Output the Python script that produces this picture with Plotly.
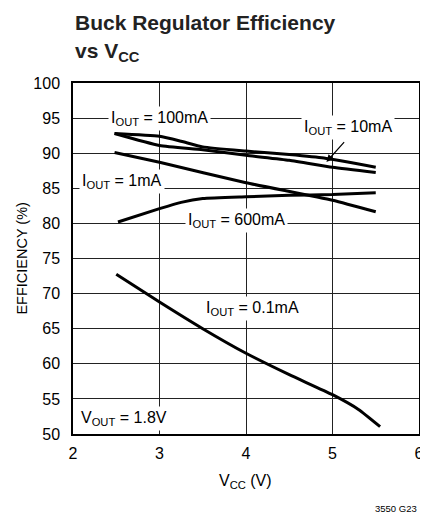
import plotly.graph_objects as go

# ---- data ----
vcc_100mA = [2.48, 3.0, 3.25, 3.5, 4.0, 4.5, 4.9, 5.5]
eff_100mA = [92.8, 92.4, 91.7, 90.9, 90.3, 89.8, 89.3, 88.0]

vcc_10mA = [2.48, 3.0, 3.5, 4.0, 4.5, 5.0, 5.5]
eff_10mA = [92.8, 91.1, 90.5, 89.7, 89.0, 88.0, 87.25]

vcc_1mA = [2.48, 3.0, 4.0, 5.0, 5.5]
eff_1mA = [90.1, 88.7, 85.8, 83.3, 81.65]

vcc_600mA = [2.52, 3.0, 3.25, 3.5, 4.0, 4.5, 5.0, 5.5]
eff_600mA = [80.2, 82.1, 83.0, 83.55, 83.8, 84.0, 84.1, 84.35]

vcc_01mA = [2.5, 3.0, 3.5, 4.0, 4.5, 5.0, 5.3, 5.55]
eff_01mA = [72.75, 68.8, 65.0, 61.5, 58.45, 55.6, 53.5, 51.05]

x_ticks = [2, 3, 4, 5, 6]
y_ticks = [50, 55, 60, 65, 70, 75, 80, 85, 90, 95, 100]

FONT = "Liberation Sans, Arial, Helvetica, sans-serif"

fig = go.Figure()
for xs, ys in [(vcc_100mA, eff_100mA), (vcc_10mA, eff_10mA), (vcc_1mA, eff_1mA),
               (vcc_600mA, eff_600mA), (vcc_01mA, eff_01mA)]:
    fig.add_trace(go.Scatter(x=xs, y=ys, mode="lines",
                             line=dict(color="black", width=3, shape="spline", smoothing=0.5),
                             showlegend=False, hoverinfo="skip"))

labels = [
    ("I<sub>OUT</sub> = 100mA", 3.0, 95.0),
    ("I<sub>OUT</sub> = 10mA", 5.18, 93.7),
    ("I<sub>OUT</sub> = 1mA", 2.565, 85.9),
    ("I<sub>OUT</sub> = 600mA", 3.89, 80.45),
    ("I<sub>OUT</sub> = 0.1mA", 4.07, 67.85),
    ("V<sub>OUT</sub> = 1.8V", 2.59, 52.15),
]
for txt, x, y in labels:
    fig.add_annotation(x=x, y=y, xref="x", yref="y", text=txt, showarrow=False,
                       xanchor="center", yanchor="middle", bgcolor="white", borderpad=2,
                       font=dict(family=FONT, size=16, color="black"))

# arrow for 10mA label
fig.add_annotation(x=4.93, y=88.76, ax=5.15, ay=91.8, xref="x", yref="y",
                   axref="x", ayref="y", text="", showarrow=True,
                   arrowhead=2, arrowsize=1.2, arrowwidth=1.2, arrowcolor="black")

# title
fig.add_annotation(x=0, y=1.171, xref="paper", yref="paper", text="<b>Buck Regulator Efficiency</b>",
                   showarrow=False, xanchor="left", yanchor="middle",
                   font=dict(family=FONT, size=21, color="#222"))
fig.add_annotation(x=0, y=1.087, xref="paper", yref="paper", text="<b>vs V<sub>CC</sub></b>",
                   showarrow=False, xanchor="left", yanchor="middle",
                   font=dict(family=FONT, size=21, color="#222"))

# axis titles
fig.add_annotation(x=-0.15, y=0.5, xref="paper", yref="paper", text="EFFICIENCY (%)",
                   textangle=-90, showarrow=False, xanchor="center", yanchor="middle",
                   font=dict(family=FONT, size=14.5, color="black"))
fig.add_annotation(x=0.499, y=-0.135, xref="paper", yref="paper", text="V<sub>CC</sub> (V)",
                   showarrow=False, xanchor="center", yanchor="middle",
                   font=dict(family=FONT, size=16, color="black"))
fig.add_annotation(x=1.0, y=-0.212, xref="paper", yref="paper", text="3550 G23",
                   showarrow=False, xanchor="right", yanchor="middle",
                   font=dict(family=FONT, size=9.5, color="black"))

axis_common = dict(showgrid=True, gridcolor="#222", gridwidth=1, zeroline=False,
                   showline=True, linecolor="black", linewidth=1.5, mirror=True,
                   ticks="", ticklabeloverflow="allow",
                   tickfont=dict(family=FONT, size=16, color="black"))
fig.update_xaxes(range=[2, 6], tickvals=x_ticks, ticktext=[str(v) for v in x_ticks],
                 ticklabelstandoff=4, **axis_common)
fig.update_yaxes(range=[50, 100], tickvals=y_ticks, ticktext=[str(v) for v in y_ticks],
                 ticklabelstandoff=8, **axis_common)

# page body has an 8px margin, so the figure is 8px smaller than the window
fig.update_layout(width=420, height=506, autosize=False,
                  margin=dict(l=64.5, r=4.5, t=75, b=80, pad=0),
                  plot_bgcolor="white", paper_bgcolor="white")

fig.write_html("out.html")
